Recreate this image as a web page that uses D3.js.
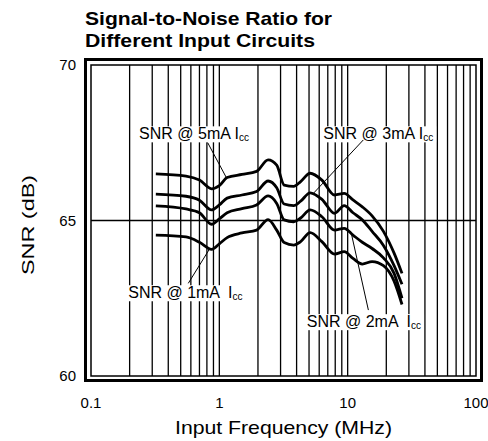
<!DOCTYPE html>
<html>
<head>
<meta charset="utf-8">
<script src="https://cdn.jsdelivr.net/npm/d3@7"></script>
<style>
body { margin: 0; background: #fff; }
text { font-family: "Liberation Sans", Arial, sans-serif; fill: #000; }
</style>
</head>
<body>
<script>
// input frequency (MHz) shared by all curves
var freqs   = [0.32, 0.55, 0.7, 0.87, 1.0, 1.15, 1.5, 1.95, 2.4, 2.8, 3.2, 3.8, 4.3, 5.1, 6.3, 7.9, 9.4, 11, 13, 15.5, 19, 23, 26.5];
var snr5mA  = [66.50, 66.43, 66.30, 66.02, 66.12, 66.38, 66.48, 66.58, 66.95, 66.78, 66.14, 66.10, 66.25, 66.52, 66.30, 65.82, 65.87, 65.66, 65.44, 65.15, 64.65, 63.95, 63.30];
var snr3mA  = [65.85, 65.78, 65.65, 65.34, 65.50, 65.72, 65.82, 65.93, 66.27, 66.05, 65.53, 65.48, 65.62, 65.89, 65.68, 65.23, 65.48, 65.25, 65.02, 64.65, 64.20, 63.55, 62.95];
var snr2mA  = [65.47, 65.37, 65.25, 64.88, 65.05, 65.25, 65.38, 65.50, 65.79, 65.55, 65.02, 64.96, 65.08, 65.34, 65.12, 64.69, 64.75, 64.53, 64.30, 64.10, 63.80, 63.30, 62.50];
var snr1mA  = [64.53, 64.47, 64.30, 64.07, 64.25, 64.45, 64.60, 64.69, 65.03, 64.69, 64.29, 64.21, 64.32, 64.61, 64.32, 63.92, 64.00, 63.78, 63.60, 63.68, 63.55, 63.05, 62.30];
var allSeries = [snr5mA, snr3mA, snr2mA, snr1mA];

var xTicks = [0.1, 1, 10, 100];
var xTickLabels = ['0.1', '1', '10', '100'];
var yTicks = [60, 65, 70];
var yGrid = [65];

// curve labels: text, anchor (MHz, dB), leader line from / to (MHz, dB)
var labelText  = ['SNR @ 5mA ', 'SNR @ 3mA ', 'SNR @ 2mA  ', 'SNR @ 1mA  '];
var labelAt    = [[0.237, 67.61], [6.46, 67.61], [4.80, 61.57], [0.195, 62.50]];
var leaderFrom = [[0.812, 67.50], [13.24, 67.59], [14.5, 62.12], [0.573, 62.98]];
var leaderTo   = [[1.141, 66.36], [5.40, 65.87], [10.75, 64.53], [0.846, 64.11]];

var W = 488, H = 441;
var pLeft = 91, pRight = 476, pTop = 65, pBottom = 376;

var svg = d3.select('body').append('svg')
    .attr('width', W)
    .attr('height', H);

var x = d3.scaleLog().domain([0.1, 100]).range([pLeft, pRight]);
var y = d3.scaleLinear().domain([60, 70]).range([pBottom, pTop]);

// vertical grid at every 1..9 multiple
var gridX = [];
[0.1, 1, 10].forEach(function (dec) {
    for (var k = 2; k <= 10; k++) gridX.push(dec * k);
});
gridX = gridX.filter(function (f) { return f < 99; });

svg.append('g').selectAll('line').data(gridX).enter().append('line')
    .attr('x1', function (d) { return x(d); })
    .attr('x2', function (d) { return x(d); })
    .attr('y1', pTop)
    .attr('y2', pBottom)
    .style('stroke', '#000')
    .style('stroke-width', '1.3px');

svg.append('g').selectAll('line').data(yGrid).enter().append('line')
    .attr('x1', pLeft)
    .attr('x2', pRight)
    .attr('y1', function (d) { return y(d); })
    .attr('y2', function (d) { return y(d); })
    .style('stroke', '#000')
    .style('stroke-width', '1.3px');

// label backgrounds go under the curves, text on top
var bgLayer = svg.append('g');

var line = d3.line()
    .x(function (d, i) { return x(freqs[i]); })
    .y(function (d) { return y(d); })
    .curve(d3.curveMonotoneX);

svg.append('g').selectAll('path').data(allSeries).enter().append('path')
    .attr('d', line)
    .style('fill', 'none')
    .style('stroke', '#000')
    .style('stroke-width', '2.8px')
    .style('stroke-linejoin', 'round');

svg.append('g').selectAll('line').data(leaderFrom).enter().append('line')
    .attr('x1', function (d) { return x(d[0]); })
    .attr('y1', function (d) { return y(d[1]); })
    .attr('x2', function (d, i) { return x(leaderTo[i][0]); })
    .attr('y2', function (d, i) { return y(leaderTo[i][1]); })
    .style('stroke', '#000')
    .style('stroke-width', '1px');

labelText.forEach(function (t, i) {
    var txt = svg.append('text')
        .attr('x', x(labelAt[i][0]))
        .attr('y', y(labelAt[i][1]))
        .style('font-size', '16px')
        .style('white-space', 'pre');
    txt.append('tspan').text(t + 'I');
    txt.append('tspan').attr('dy', 2).style('font-size', '10px').text('cc');
    var bb = txt.node().getBBox();
    bgLayer.append('rect')
        .attr('x', bb.x - 3)
        .attr('y', bb.y + 1)
        .attr('width', bb.width + 6)
        .attr('height', bb.height - 2)
        .style('fill', '#fff');
});

// double frame
svg.append('rect')
    .attr('x', pLeft).attr('y', pTop)
    .attr('width', pRight - pLeft).attr('height', pBottom - pTop)
    .style('fill', 'none').style('stroke', '#000').style('stroke-width', '1.5px');
svg.append('rect')
    .attr('x', pLeft - 5.5).attr('y', pTop - 5.5)
    .attr('width', pRight - pLeft + 11).attr('height', pBottom - pTop + 10)
    .style('fill', 'none').style('stroke', '#000').style('stroke-width', '3px');

// tick labels
svg.append('g').selectAll('text').data(yTicks).enter().append('text')
    .attr('x', 76)
    .attr('y', function (d) { return y(d); })
    .attr('dy', '0.36em')
    .attr('text-anchor', 'end')
    .style('font-size', '15px')
    .text(function (d) { return d; });

svg.append('g').selectAll('text').data(xTicks).enter().append('text')
    .attr('x', function (d) { return x(d); })
    .attr('y', 408)
    .attr('text-anchor', 'middle')
    .style('font-size', '15px')
    .text(function (d, i) { return xTickLabels[i]; });

// titles
svg.append('text')
    .attr('x', 85).attr('y', 25)
    .attr('textLength', 247).attr('lengthAdjust', 'spacingAndGlyphs')
    .style('font-size', '19px').style('font-weight', 'bold')
    .text('Signal-to-Noise Ratio for');
svg.append('text')
    .attr('x', 85).attr('y', 46.5)
    .attr('textLength', 230).attr('lengthAdjust', 'spacingAndGlyphs')
    .style('font-size', '19px').style('font-weight', 'bold')
    .text('Different Input Circuits');

svg.append('text')
    .attr('x', 175).attr('y', 434)
    .attr('textLength', 217).attr('lengthAdjust', 'spacingAndGlyphs')
    .style('font-size', '18.5px')
    .text('Input Frequency (MHz)');

svg.append('text')
    .attr('transform', 'translate(33.5,275) rotate(-90)')
    .attr('textLength', 100).attr('lengthAdjust', 'spacingAndGlyphs')
    .style('font-size', '16px')
    .text('SNR (dB)');
</script>
</body>
</html>
